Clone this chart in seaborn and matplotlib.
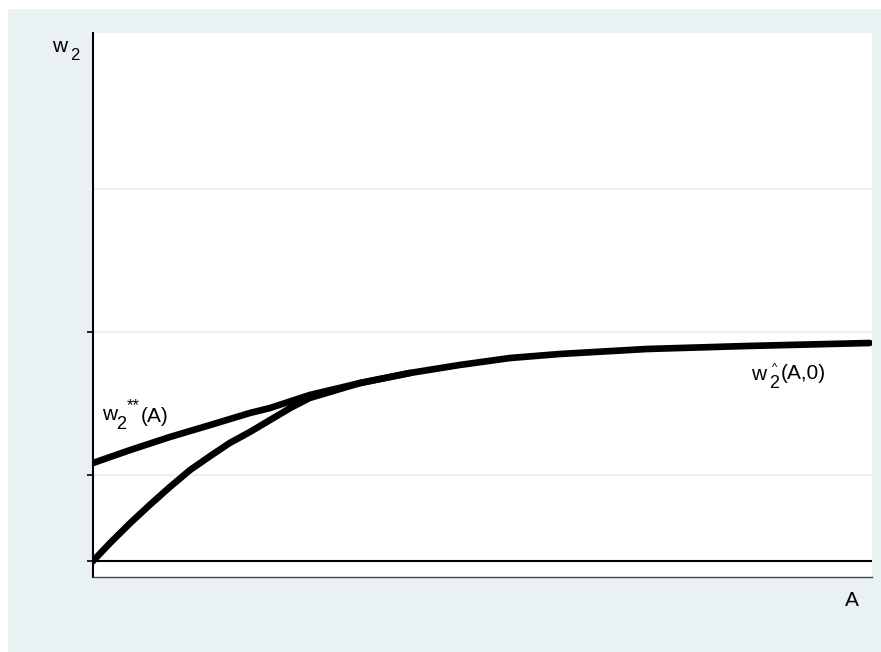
import numpy as np
import pandas as pd
import seaborn as sns
import matplotlib.pyplot as plt
from matplotlib.patches import Rectangle

# --------------------------
# Dados (A no eixo x, w2 no eixo y)
# --------------------------
# curva w2^(A,0)
a_base = [0.0, 0.22, 0.48, 0.73, 0.99, 1.25, 1.51, 1.76, 2.02, 2.28, 2.54, 2.79,
          3.44, 4.08, 4.72, 5.37, 6.01, 7.13, 8.42, 10.0]
w_base = [0.0, 0.18, 0.38, 0.56, 0.74, 0.91, 1.05, 1.18, 1.29, 1.41, 1.53, 1.63,
          1.78, 1.88, 1.96, 2.03, 2.07, 2.12, 2.15, 2.18]
# curva w2**(A)
a_star = [0.0, 0.48, 0.99, 1.51, 2.02, 2.28, 2.79, 3.44, 4.08]
w_star = [0.98, 1.11, 1.24, 1.36, 1.48, 1.53, 1.66, 1.78, 1.88]

grid_y = [0.86, 2.29, 3.72]
tick_y = [0.0, 0.86, 2.29]

BG = '#E9F1F3'

sns.set_style('white')
plt.rcParams['font.family'] = ['Liberation Sans', 'DejaVu Sans']

df = pd.concat([
    pd.DataFrame({'A': a_base, 'w2': w_base, 'curva': 'base'}),
    pd.DataFrame({'A': a_star, 'w2': w_star, 'curva': 'star'}),
])

fig = plt.figure(figsize=(8.81, 6.52), dpi=100)
fig.patch.set_facecolor('white')
fig.add_artist(Rectangle((8 / 881, 0), 1 - 8 / 881, 1 - 9 / 652,
                         transform=fig.transFigure, facecolor=BG, edgecolor='none', zorder=0))

ax = fig.add_axes([93 / 881, 1 - 577 / 652, (872 - 93) / 881, (577 - 33) / 652])
ax.set_facecolor('white')

for g in grid_y:
    ax.axhline(g, color=BG, lw=1.6, zorder=1)
ax.axhline(0, color='black', lw=1.5, zorder=2)

sns.lineplot(data=df, x='A', y='w2', units='curva', estimator=None, sort=False,
             color='black', lw=4.8, ax=ax, legend=False, zorder=3)
for ln in ax.lines:
    ln.set_solid_capstyle('round')
    ln.set_solid_joinstyle('round')

ax.set_xlim(0, 10.03)
ax.set_ylim(-0.16, 5.28)
ax.set_xticks([])
ax.set_yticks(tick_y)
ax.set_yticklabels([''] * len(tick_y))
ax.tick_params(axis='y', left=True, length=4.5, width=1.2, color='black')
ax.set_xlabel('')
ax.set_ylabel('')

for s in ['top', 'right']:
    ax.spines[s].set_visible(False)
ax.spines['left'].set_color('black')
ax.spines['left'].set_linewidth(1.5)
ax.spines['bottom'].set_color('#444444')
ax.spines['bottom'].set_linewidth(1.0)

# --------------------------
# Rótulos
# --------------------------
fs = 15
kw = dict(color='black', ha='left', va='baseline')
# eixo y: w2
ax.text(-0.53, 5.09, 'w', fontsize=fs, clip_on=False, **kw)
ax.text(-0.29, 5.01, '2', fontsize=12, clip_on=False, **kw)
# eixo x: A
ax.text(9.68, -0.45, 'A', fontsize=fs, clip_on=False, **kw)

# w2**(A)
ax.text(0.12, 1.41, 'w', fontsize=fs, **kw)
ax.text(0.30, 1.32, '2', fontsize=13, **kw)
ax.text(0.44, 1.63, '**', fontsize=12, color='black', ha='left', va='top')
ax.text(0.62, 1.39, '(A)', fontsize=fs, **kw)

# w2^(A,0)
ax.text(8.47, 1.81, 'w', fontsize=fs, **kw)
ax.text(8.70, 1.73, '2', fontsize=13, **kw)
ax.text(8.77, 1.98, '^', fontsize=8, color='black', ha='center', va='top')
ax.text(8.86, 1.82, '(A,0)', fontsize=fs, **kw)

fig.savefig('out.png', dpi=100)
